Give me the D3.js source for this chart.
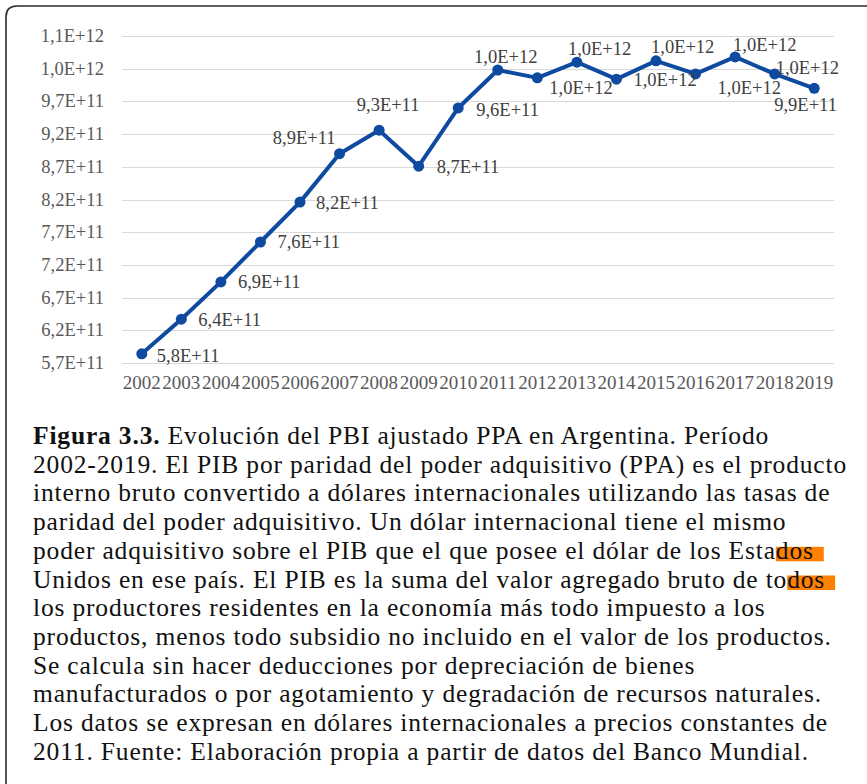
<!DOCTYPE html>
<html lang="es">
<head>
    <meta charset="UTF-8">
    <title>PBI PPA Argentina</title>
    <script src="https://cdn.jsdelivr.net/npm/d3@7"></script>
    <style>
        body { margin: 0; background: #fff; }
        svg { display: block; }
    </style>
</head>
<body>
    <svg width="867" height="784"></svg>
</body>
</html>
<script>
   // datos
   var years = ['2002','2003','2004','2005','2006','2007','2008','2009','2010',
                '2011','2012','2013','2014','2015','2016','2017','2018','2019'];
   var pib = [5.84e11, 6.37e11, 6.94e11, 7.55e11, 8.16e11, 8.90e11, 9.26e11, 8.71e11, 9.60e11,
              1.018e12, 1.006e12, 1.030e12, 1.004e12, 1.032e12, 1.012e12, 1.038e12, 1.012e12, 9.90e11];
   var yTicks = [5.7e11, 6.2e11, 6.7e11, 7.2e11, 7.7e11, 8.2e11, 8.7e11, 9.2e11, 9.7e11, 1.02e12, 1.07e12];

   var captionLines = [
       ['Figura 3.3.', ' Evolución del PBI ajustado PPA en Argentina. Período'],
       ['', '2002-2019. El PIB por paridad del poder adquisitivo (PPA) es el producto'],
       ['', 'interno bruto convertido a dólares internacionales utilizando las tasas de'],
       ['', 'paridad del poder adquisitivo. Un dólar internacional tiene el mismo'],
       ['', 'poder adquisitivo sobre el PIB que el que posee el dólar de los Esta', 'dos'],
       ['', 'Unidos en ese país. El PIB es la suma del valor agregado bruto de to', 'dos'],
       ['', 'los productores residentes en la economía más todo impuesto a los'],
       ['', 'productos, menos todo subsidio no incluido en el valor de los productos.'],
       ['', 'Se calcula sin hacer deducciones por depreciación de bienes'],
       ['', 'manufacturados o por agotamiento y degradación de recursos naturales.'],
       ['', 'Los datos se expresan en dólares internacionales a precios constantes de'],
       ['', '2011. Fuente: Elaboración propia a partir de datos del Banco Mundial.']
   ];

   var svg = d3.select('svg');
   var serif = '"Liberation Serif", "Times New Roman", serif';

   // marco con esquina redondeada (solo arriba e izquierda)
   svg.append('path')
       .attr('d', 'M6,784 L6,17 Q6,6 17,6 L867,6')
       .attr('fill', 'none')
       .attr('stroke', '#2b2b2b')
       .attr('stroke-width', 1.6);

   var x = d3.scaleBand().domain(years).range([122, 834]);
   var y = d3.scaleLinear().domain([5.7e11, 1.07e12]).range([363, 36]);

   function fmt(v) {
       return v.toExponential(1).replace('.', ',').replace('e', 'E');
   }

   // lineas de la grilla
   svg.append('g').selectAll('line')
       .data(yTicks)
       .enter().append('line')
       .attr('x1', 122).attr('x2', 834)
       .attr('y1', function(d){ return Math.round(y(d)) + 0.5; })
       .attr('y2', function(d){ return Math.round(y(d)) + 0.5; })
       .attr('stroke', '#d9d9d9')
       .attr('stroke-width', 1);

   // eje y
   svg.append('g').selectAll('text')
       .data(yTicks)
       .enter().append('text')
       .attr('x', 104)
       .attr('y', function(d){ return y(d) + 6; })
       .attr('text-anchor', 'end')
       .style('font-family', serif)
       .style('font-size', '18.5px')
       .style('fill', '#595959')
       .text(fmt);

   // eje x
   svg.append('g').selectAll('text')
       .data(years)
       .enter().append('text')
       .attr('x', function(d){ return x(d) + x.bandwidth() / 2; })
       .attr('y', 389)
       .attr('text-anchor', 'middle')
       .style('font-family', serif)
       .style('font-size', '19px')
       .style('fill', '#595959')
       .text(function(d){ return d; });

   var blue = '#0e4ba0';
   var line = d3.line()
       .x(function(d, i){ return x(years[i]) + x.bandwidth() / 2; })
       .y(function(d){ return y(d); });

   svg.append('path')
       .datum(pib)
       .attr('d', line)
       .attr('fill', 'none')
       .attr('stroke', blue)
       .attr('stroke-width', 4)
       .attr('stroke-linejoin', 'round');

   svg.append('g').selectAll('circle')
       .data(pib)
       .enter().append('circle')
       .attr('cx', function(d, i){ return x(years[i]) + x.bandwidth() / 2; })
       .attr('cy', function(d){ return y(d); })
       .attr('r', 5.5)
       .attr('fill', blue);

   // etiquetas: ancla, desplazamiento x, desplazamiento y (centro vertical)
   var labelNudge = [
       ['start', 15, 2], ['start', 17, 1], ['start', 17, 0], ['start', 17, 0],
       ['start', 16, 1], ['end', -4, -16], ['middle', 9, -25], ['start', 18, 1],
       ['start', 18, 2], ['middle', 8, -13], ['start', 12, 10], ['start', -9, -13],
       ['start', 17, 1], ['start', -5, -14], ['start', 22, 14], ['start', -2, -12],
       ['start', 1, -6], ['start', -40, 17]
   ];

   svg.append('g').selectAll('text')
       .data(pib)
       .enter().append('text')
       .attr('x', function(d, i){ return x(years[i]) + x.bandwidth() / 2 + labelNudge[i][1]; })
       .attr('y', function(d, i){ return y(d) + labelNudge[i][2] + 6; })
       .attr('text-anchor', function(d, i){ return labelNudge[i][0]; })
       .style('font-family', serif)
       .style('font-size', '18.5px')
       .style('fill', '#404040')
       .text(fmt);

   // texto del epigrafe
   var cap = svg.append('g');
   var lineH = 28.7;
   var rows = cap.selectAll('text')
       .data(captionLines)
       .enter().append('text')
       .attr('x', 33)
       .attr('y', function(d, i){ return 444 + i * lineH; })
       .style('font-family', serif)
       .style('font-size', '25.5px')
       .style('fill', '#111');

   rows.each(function(d){
       var t = d3.select(this);
       if (d[0]) t.append('tspan').style('font-weight', 'bold').text(d[0]);
       t.append('tspan').text(d[1]);
       if (d[2]) t.append('tspan').attr('class', 'hl').text(d[2]);
   });

   // espaciado: la linea mas larga llega a x = 847
   var ls = Infinity;
   rows.each(function(d){
       var n = (d[0] + d[1] + (d[2] || '')).length;
       var s = (814 - this.getComputedTextLength()) / n;
       if (s < ls) ls = s;
   });
   rows.style('letter-spacing', ls + 'px');

   // resaltado naranja detras de "dos"
   rows.each(function(d, i){
       if (!d[2]) return;
       var el = this;
       var idx = d[0].length + d[1].length;
       var p = el.getStartPositionOfChar(idx);
       var tsp = d3.select(el).select('.hl').node();
       var w = tsp.getComputedTextLength();
       cap.insert('rect', 'text')
           .attr('x', p.x)
           .attr('y', 444 + i * lineH - 12)
           .attr('width', w + 10)
           .attr('height', 14.5)
           .attr('fill', '#ff8000');
   });
</script>
